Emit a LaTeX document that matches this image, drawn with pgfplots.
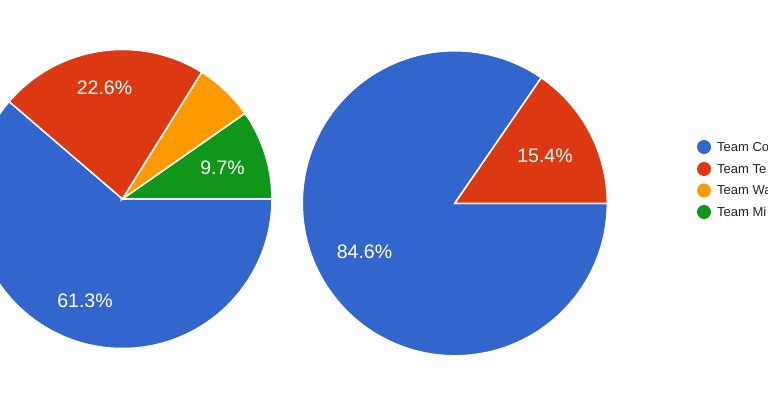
\documentclass[border=0pt]{standalone}
\usepackage{pgfplots}
\pgfplotsset{compat=1.18}
\usepackage{fontspec}
\setmainfont{Liberation Sans}

\definecolor{gblue}{HTML}{3366CC}
\definecolor{gred}{HTML}{DC3912}
\definecolor{gorange}{HTML}{FF9900}
\definecolor{ggreen}{HTML}{109618}
\definecolor{gtext}{HTML}{222222}

\tikzset{
  plabel/.style={font=\fontsize{19.5bp}{23bp}\selectfont, text=white, inner sep=0pt, anchor=base},
  llabel/.style={font=\fontsize{13bp}{15bp}\selectfont, text=gtext, inner sep=0pt, anchor=west},
}

% one slice: centre x, centre y, radius, start angle, percent, colour
\newcommand{\slice}[6]{%
  \fill[#6, draw=white, line width=1.5bp]
    (axis cs:#1,#2) -- ++(#4:#3 bp)
    arc[start angle=#4, delta angle={-3.6*#5}, radius=#3 bp] -- cycle;}

\begin{document}
\begin{tikzpicture}
\useasboundingbox (0,0) rectangle (768bp,414bp);
\begin{axis}[
  width=768bp, height=414bp, scale only axis,
  xmin=0, xmax=768, ymin=0, ymax=414,
  hide axis,
]
% left pie: 61.3, 22.6, 6.4, 9.7 (clockwise from 3 o'clock)
\slice{122.5}{215}{149.5}{0}{61.3}{gblue}
\slice{122.5}{215}{149.5}{139.32}{22.6}{gred}
\slice{122.5}{215}{149.5}{57.96}{6.4}{gorange}
\slice{122.5}{215}{149.5}{34.92}{9.7}{ggreen}
\node[plabel] at (axis cs:104.5,319) {22.6\%};
\node[plabel] at (axis cs:222.5,239) {9.7\%};
\node[plabel] at (axis cs:85,106) {61.3\%};

% right pie: 84.6, 15.4
\slice{454.8}{210.7}{152.5}{0}{84.6}{gblue}
\slice{454.8}{210.7}{152.5}{55.44}{15.4}{gred}
\node[plabel] at (axis cs:545,251) {15.4\%};
\node[plabel] at (axis cs:364.5,155.7) {84.6\%};

% legend
\fill[gblue]   (axis cs:704,267) circle[radius=7bp];
\fill[gred]    (axis cs:704,245) circle[radius=7bp];
\fill[gorange] (axis cs:704,223.5) circle[radius=7bp];
\fill[ggreen]  (axis cs:704,202) circle[radius=7bp];
\node[llabel] at (axis cs:717,267) {Team Co};
\node[llabel] at (axis cs:717,245) {Team Te};
\node[llabel] at (axis cs:717,223.5) {Team Wa};
\node[llabel] at (axis cs:717,202) {Team Mi};
\end{axis}
\end{tikzpicture}
\end{document}
